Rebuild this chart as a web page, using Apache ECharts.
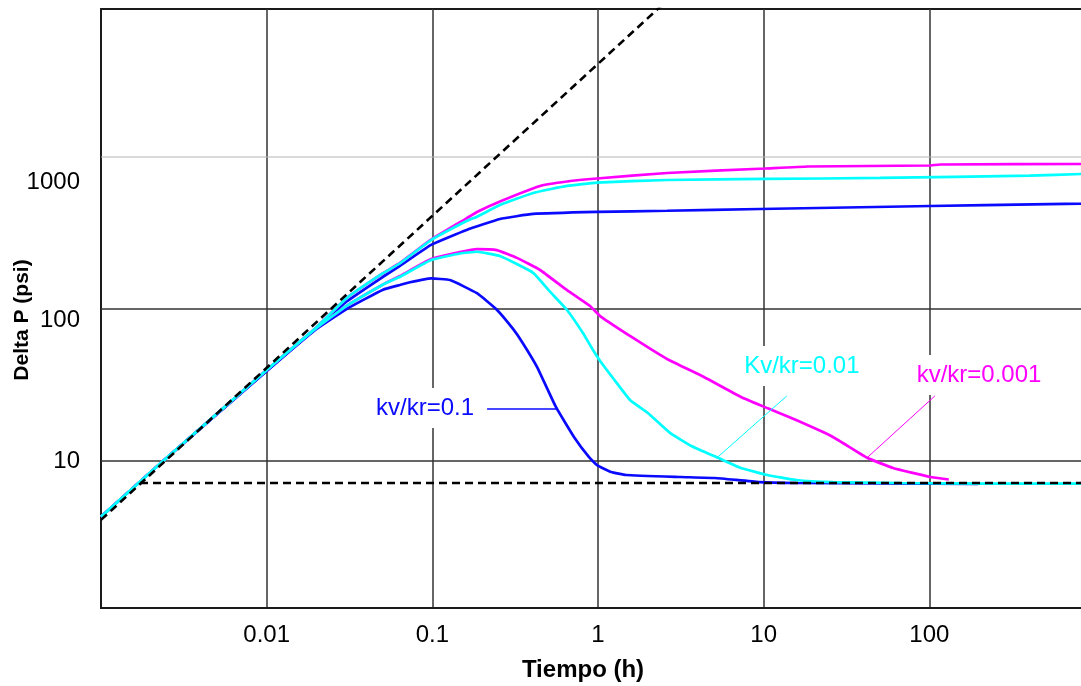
<!DOCTYPE html>
<html><head><meta charset="utf-8">
<script src="https://cdn.jsdelivr.net/npm/echarts@6/dist/echarts.min.js"></script>
<style>html,body{margin:0;padding:0;background:#fff}#c{width:1081px;height:686px}</style>
</head><body><div id="c"></div>
<script>
// Tick labels
const xTickLabels = ['0.01', '0.1', '1', '10', '100'];
const yTickLabels = ['10', '100', '1000'];
const yGridMajor = [10, 100];
const yGridMinor = [1000];
const xRange = [0.001, 1000];
const yRange = [1.079, 9413];

// Pressure curves (upper) and derivative curves (lower): [tiempo h, delta P psi]
const blueP = [[0.001,4.3],[0.00237,10.0],[0.01,39.1],[0.02,75],[0.0304,112],[0.0504,163],[0.0638,192],[0.0982,264],[0.161,331],[0.256,391],[0.406,422],[0.986,435],[2.61,443],[9.5,455],[47,469],[217,483],[823,494],[1000,496]];
const blueD = [[0.001,4.3],[0.00237,10.0],[0.01,39.1],[0.02,73.9],[0.0304,100],[0.0504,134],[0.0638,144],[0.0733,150],[0.0982,159],[0.128,155],[0.186,127],[0.245,99],[0.307,74],[0.348,60.7],[0.429,41.5],[0.557,22.7],[0.716,14.4],[0.883,10.6],[0.986,9.41],[1.2,8.47],[1.476,8.09],[3.17,7.85],[5.08,7.73],[9.37,7.27],[15.7,7.17],[197,7.06]];
const magP = [[0.001,4.3],[0.00237,10.0],[0.01,39.7],[0.02,76],[0.0304,118],[0.0504,172],[0.0638,201],[0.0982,286],[0.161,395],[0.186,435],[0.256,510],[0.447,645],[0.65,690],[0.986,722],[2.61,785],[10.2,840],[18.5,866],[99.5,879],[116,893],[1000,900]];
const magD = [[0.001,4.3],[0.00237,10.0],[0.01,39.7],[0.02,75],[0.0304,105],[0.0504,145],[0.0638,165],[0.0982,213],[0.147,237],[0.186,248],[0.245,244],[0.324,217],[0.447,180.6],[0.65,133],[0.895,104.6],[1.03,89.9],[1.63,64.5],[2.61,46.9],[4.36,35.7],[7.3,26.4],[10.5,22.3],[15.7,18.6],[26.2,14.4],[42.1,10.5],[60.4,8.99],[101,7.85],[131,7.56]];
const cyanP = [[0.001,4.3],[0.00237,10.0],[0.01,39.7],[0.02,76],[0.0304,118],[0.0504,172],[0.0638,200],[0.0982,284],[0.161,379],[0.186,405],[0.256,483],[0.406,580],[0.65,645],[0.986,679],[2.61,706],[10.2,717],[50.4,728],[405,755],[823,773],[1000,776]];
const cyanD = [[0.001,4.3],[0.00237,10.0],[0.01,39.7],[0.02,75],[0.0304,105],[0.0504,145],[0.0638,163],[0.0982,210],[0.147,232],[0.186,238],[0.256,223],[0.406,173],[0.513,130],[0.65,98.5],[0.811,69.5],[0.933,53.7],[1.03,45.5],[1.27,33.6],[1.56,25.2],[2.0,20.7],[2.72,15.3],[3.74,12.4],[5.30,10.5],[7.3,8.99],[10.5,8.09],[15.7,7.5],[26.2,7.27],[66.5,7.17],[205,7.11],[1000,7.11]];

// Reference (dashed) lines
const unitSlope = [[0.001,4.1],[2.5,10250]];
const radialLine = [[0.00172,7.17],[1000,7.17]];

// Annotations
const labelTexts = ['kv/kr=0.1', 'Kv/kr=0.01', 'kv/kr=0.001'];
const labelAnchors = [[0.0904,22.3],[17.0,42.2],[199.5,36.8]];
const leaderBlue = [[0.214,22],[0.562,22]];
const leaderCyan = [[5.2,10.46],[13.8,26.8]];
const leaderMag = [[41.9,10.46],[108,26.8]];

const BLUE = '#0a0aff', CYAN = '#00ffff', MAG = '#ff00ff';
const FONT = 'Liberation Sans, Arial, Helvetica, sans-serif';

function fmt(v) { return String(parseFloat(Number(v).toPrecision(6))); }

function curve(data, color) {
  return { type: 'line', data: data, showSymbol: false, symbol: 'none', smooth: 0.12,
    lineStyle: { color: color, width: 2.7 }, z: 2, silent: true };
}
function gridSeries(v, color, width) {
  return { type: 'line', data: [[xRange[0], v], [xRange[1], v]], symbol: 'none', silent: true, z: 1,
    lineStyle: { color: color, width: width } };
}
function leader(data, color, width, idx) {
  return { type: 'line', data: data, symbol: 'none', silent: true, z: 3,
    lineStyle: { color: color, width: width },
    markPoint: { symbol: 'rect', symbolSize: 1, silent: true, itemStyle: { color: 'rgba(0,0,0,0)' },
      label: { show: true, position: 'inside', formatter: labelTexts[idx], color: color, fontSize: 24,
        fontFamily: FONT, backgroundColor: '#fff', padding: [8, 2] },
      data: [{ coord: labelAnchors[idx] }] } };
}

const series = [];
yGridMajor.forEach(v => series.push(gridSeries(v, '#333', 1.5)));
yGridMinor.forEach(v => series.push(gridSeries(v, '#b4b4b4', 1)));
series.push(curve(blueP, BLUE), curve(blueD, BLUE));
series.push(curve(magP, MAG), curve(magD, MAG));
series.push(curve(cyanP, CYAN), curve(cyanD, CYAN));
series.push(leader(leaderBlue, BLUE, 1.5, 0), leader(leaderCyan, CYAN, 1, 1), leader(leaderMag, MAG, 1, 2));
series.push({ type: 'line', data: unitSlope, symbol: 'none', silent: true, z: 4,
  lineStyle: { color: '#000', width: 2.6, type: [8, 5] } });
series.push({ type: 'line', data: radialLine, symbol: 'none', silent: true, z: 4,
  lineStyle: { color: '#000', width: 2.6, type: [8, 5] } });

const chart = echarts.init(document.getElementById('c'), null, { renderer: 'canvas' });
chart.setOption({
  animation: false,
  backgroundColor: '#fff',
  grid: { left: 101, top: 9, width: 994, height: 599, show: true, borderColor: '#1a1a1a', borderWidth: 1.8,
    containLabel: false, outerBoundsMode: 'none' },
  xAxis: {
    type: 'log', logBase: 10, min: xRange[0], max: xRange[1],
    name: 'Tiempo (h)', nameLocation: 'middle', nameGap: 50, nameMoveOverlap: false,
    nameTextStyle: { fontSize: 24, fontWeight: 'bold', color: '#000', fontFamily: FONT, padding: [0, 30, 0, 0] },
    axisLine: { show: true, lineStyle: { color: '#1a1a1a', width: 1.8 } },
    axisTick: { show: false },
    axisLabel: { margin: 15, fontSize: 24, color: '#000', fontFamily: FONT,
      formatter: v => { const s = fmt(v); return xTickLabels.includes(s) ? s : ''; } },
    splitLine: { show: true, lineStyle: { color: '#333', width: 1.5 } }
  },
  yAxis: {
    type: 'log', logBase: 10, min: yRange[0], max: yRange[1],
    name: 'Delta P (psi)', nameLocation: 'middle', nameGap: 68, nameMoveOverlap: false,
    nameTextStyle: { fontSize: 21, fontWeight: 'bold', color: '#000', fontFamily: FONT, padding: [0, 23, 0, 0] },
    axisLine: { show: true, lineStyle: { color: '#1a1a1a', width: 1.8 } },
    axisTick: { show: false },
    splitLine: { show: false },
    axisLabel: { margin: 21, fontSize: 24, color: '#000', fontFamily: FONT,
      formatter: v => { const s = fmt(Math.round(v)); return yTickLabels.includes(s) ? '{y' + s + '|' + s + '}' : ''; },
      rich: {
        y10: { fontSize: 24, fontFamily: FONT, color: '#000' },
        y100: { fontSize: 24, fontFamily: FONT, color: '#000', padding: [22, 0, 0, 0] },
        y1000: { fontSize: 24, fontFamily: FONT, color: '#000', padding: [50, 0, 0, 0] }
      } }
  },
  series: series
});
</script>
</body></html>
